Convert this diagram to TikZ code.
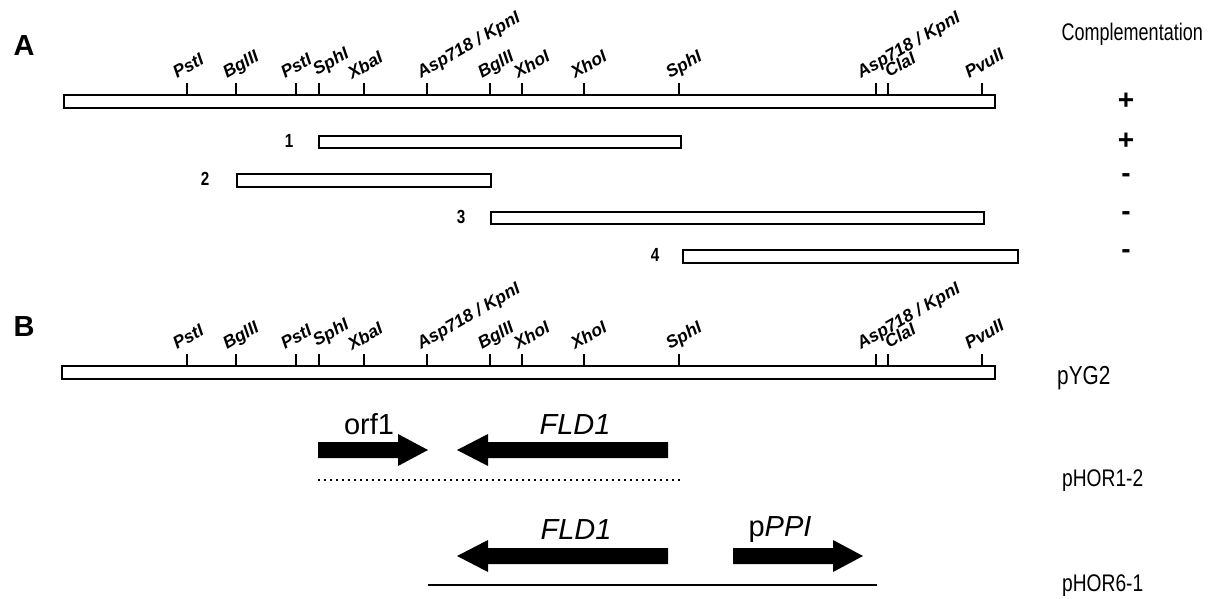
\documentclass[tikz,border=0pt]{standalone}
\usepackage{fontspec}
\setmainfont{Liberation Sans}
\newfontfamily\nar[FakeStretch=0.8]{Liberation Sans}
\newfontfamily\narr[FakeStretch=0.75]{Liberation Sans}
\begin{document}
\begin{tikzpicture}[x=1pt,y=-1pt,
  bar/.style={draw,line width=1.8pt,fill=white,inner sep=0pt,anchor=north west},
  tickline/.style={line width=1.5pt},
  enz/.style={rotate=30,anchor=base west,inner sep=0pt,font=\fontsize{17.5}{17.5}\selectfont\bfseries\itshape},
  panel/.style={font=\fontsize{29}{29}\selectfont\bfseries,inner sep=0pt},
  num/.style={font=\nar\fontsize{19}{19}\selectfont\bfseries,inner sep=0pt},
  sign/.style={font=\fontsize{28}{28}\selectfont\bfseries,inner sep=0pt},
  rlab/.style={font=\nar\fontsize{24}{24}\selectfont,anchor=west,inner sep=0pt},
  glab/.style={font=\fontsize{29}{29}\selectfont,inner sep=0pt},
  gene/.style={fill=black,draw=none}]
\useasboundingbox (0,0) rectangle (1208,598);

% ---------- restriction maps A and B ----------
\foreach \yo/\nm/\bx/\bw in {0/A/63/931, 271/B/61/933}{
  \node[bar,minimum width=\bw,minimum height=13] (map\nm) at (\bx,94+\yo) {};
  \foreach \tx/\lab/\dx/\ly in {187/PstI/-10/79, 236/BglII/-9/79, 296/PstI/-11/79,
      319/SphI/-2/76, 364/XbaI/-12/80, 427/{Asp718 / KpnI}/-6/79, 490/BglII/-8/79,
      522/XhoI/-4/79, 584/XhoI/-9/79, 679/SphI/-9/79, 876/{Asp718 / KpnI}/-15/79,
      888/ClaI/1/78, 982/PvuII/-13/79}{
    \coordinate (t\nm\tx) at (\tx,94+\yo);
    \draw[tickline] (t\nm\tx) -- ++(0,-11);
    \node[enz] (l\nm\tx) at (\tx+\dx,\ly+\yo) {\lab};
  }
}
\node[panel] (pA) at (24,46) {A};
\node[panel] (pB) at (24,327) {B};

% ---------- subclones ----------
\node[bar,minimum width=362,minimum height=12] (s1) at (318,135) {};
\node[bar,minimum width=254,minimum height=13] (s2) at (236,173) {};
\node[bar,minimum width=493,minimum height=12] (s3) at (490,211) {};
\node[bar,minimum width=335,minimum height=13] (s4) at (682,249) {};
\node[num] (n1) at (289,141) {1};
\node[num] (n2) at (205,179) {2};
\node[num] (n3) at (461,217) {3};
\node[num] (n4) at (655,255) {4};

\node[font=\narr\fontsize{24}{24}\selectfont,anchor=east,inner sep=0pt] (comp) at (1203,34) {Complementation};
\node[sign] (c0) at (1126,101) {+};
\node[sign] (c1) at (1126,141) {+};
\node[sign] (c2) at (1126,178) {-};
\node[sign] (c3) at (1126,216) {-};
\node[sign] (c4) at (1126,254) {-};

% ---------- panel B constructs ----------
\node[rlab,font=\nar\fontsize{26}{26}\selectfont] (pyg) at (1057,378) {pYG2};
\node[rlab] (ph12) at (1062,481) {pHOR1-2};
\node[rlab] (ph61) at (1062,586) {pHOR6-1};

% orf1 (rightward)
\fill[gene] (318,442) -- (398,442) -- (398,434) -- (428,450) -- (398,466) -- (398,458) -- (318,458) -- cycle;
% FLD1 (leftward), row 1
\fill[gene] (668,442) -- (488,442) -- (488,434) -- (457,450) -- (488,466) -- (488,458) -- (668,458) -- cycle;
\node[glab] (orf) at (369,424) {orf1};
\node[glab] (fld1) at (575,425) {\itshape FLD1};
\coordinate (d0) at (318,480);
\coordinate (d1) at (680,480);
\draw[line width=1.6pt,dash pattern=on 1.6pt off 4.4pt] (d0) -- (d1);

% row 2
\fill[gene] (668,548) -- (488,548) -- (488,540) -- (457,556) -- (488,572) -- (488,564) -- (668,564) -- cycle;
\fill[gene] (733,548) -- (833,548) -- (833,540) -- (863,556) -- (833,572) -- (833,564) -- (733,564) -- cycle;
\node[glab] (fld2) at (576,530) {\itshape FLD1};
\node[glab] (ppi) at (780,530) {p\textit{PPI}};
\coordinate (e0) at (428,585);
\coordinate (e1) at (877,585);
\draw[line width=1.5pt] (e0) -- (e1);
\end{tikzpicture}
\end{document}
